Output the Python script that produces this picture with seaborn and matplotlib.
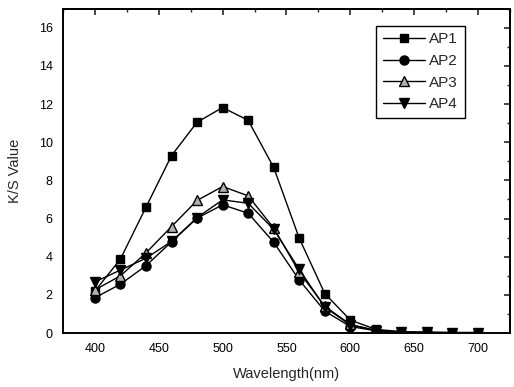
import matplotlib
matplotlib.use("Agg")
import matplotlib.pyplot as plt
from matplotlib.ticker import MultipleLocator
import seaborn as sns
import pandas as pd

wavelength = [400, 420, 440, 460, 480, 500, 520, 540, 560, 580, 600, 620, 640, 660, 680, 700]
ap1 = [2.2, 3.88, 6.6, 9.3, 11.05, 11.82, 11.15, 8.68, 4.97, 2.07, 0.68, 0.19, 0.07, 0.03, 0.02, 0.02]
ap2 = [1.85, 2.56, 3.53, 4.78, 6.02, 6.72, 6.28, 4.76, 2.78, 1.15, 0.34, 0.12, 0.05, 0.03, 0.02, 0.02]
ap3 = [2.26, 3.0, 4.2, 5.58, 6.95, 7.68, 7.19, 5.5, 3.2, 1.4, 0.45, 0.14, 0.05, 0.03, 0.02, 0.02]
ap4 = [2.68, 3.3, 3.92, 4.8, 6.05, 6.98, 6.8, 5.44, 3.33, 1.36, 0.42, 0.13, 0.05, 0.03, 0.02, 0.02]
series_names = ["AP1", "AP2", "AP3", "AP4"]
series_values = [ap1, ap2, ap3, ap4]

sns.set_style("white")
plt.rcParams["font.family"] = ["Liberation Sans", "DejaVu Sans"]

df = pd.DataFrame({
    "Wavelength": wavelength * 4,
    "KS": [v for s in series_values for v in s],
    "Series": [n for n, s in zip(series_names, series_values) for _ in s],
})

fig = plt.figure(figsize=(5.14, 3.87), dpi=100)
ax = fig.add_axes([0.1226, 0.1395, 0.8694, 0.838])

styles = {
    "AP1": dict(marker="s", markerfacecolor="black", markersize=6),
    "AP2": dict(marker="o", markerfacecolor="black", markersize=6.5),
    "AP3": dict(marker="^", markerfacecolor="#b0b0b0", markersize=6.5),
    "AP4": dict(marker="v", markerfacecolor="black", markersize=7),
}
for name in series_names:
    sub = df[df["Series"] == name]
    sns.lineplot(data=sub, x="Wavelength", y="KS", ax=ax, color="black",
                 linewidth=1.0, markeredgecolor="black", markeredgewidth=1.0,
                 label=name, **styles[name])

ax.set_xlim(375, 725)
ax.set_ylim(0, 17)
ax.xaxis.set_major_locator(MultipleLocator(50))
ax.xaxis.set_minor_locator(MultipleLocator(25))
ax.yaxis.set_major_locator(MultipleLocator(2))
ax.yaxis.set_minor_locator(MultipleLocator(1))
ax.tick_params(which="major", direction="out", length=4, width=1.2, labelsize=9, colors="black")
ax.tick_params(which="minor", direction="out", length=2.5, width=1.0)
ax.set_xlabel("Wavelength(nm)", fontsize=10.5, labelpad=8)
ax.set_ylabel("K/S Value", fontsize=10.5, labelpad=12)
for sp in ax.spines.values():
    sp.set_color("black")
    sp.set_linewidth(1.4)

top = ax.secondary_xaxis("top")
top.xaxis.set_major_locator(MultipleLocator(50))
top.xaxis.set_minor_locator(MultipleLocator(25))
top.tick_params(which="major", direction="in", length=4, width=1.2, labeltop=False)
top.tick_params(which="minor", direction="in", length=2.5, width=1.0)
right = ax.secondary_yaxis("right")
right.yaxis.set_major_locator(MultipleLocator(2))
right.yaxis.set_minor_locator(MultipleLocator(1))
right.tick_params(which="major", direction="in", length=4, width=1.2, labelright=False)
right.tick_params(which="minor", direction="in", length=2.5, width=1.0)
for s in (top, right):
    for sp in s.spines.values():
        sp.set_linewidth(1.4)

leg = ax.legend(loc="upper right", bbox_to_anchor=(0.899, 0.948), fontsize=11,
                frameon=True, fancybox=False, edgecolor="black", framealpha=1,
                handlelength=2.7, borderpad=0.45, labelspacing=0.5, handletextpad=0.3,
                borderaxespad=0.0)
leg.get_frame().set_linewidth(1.0)

fig.savefig("out.png", dpi=100)
